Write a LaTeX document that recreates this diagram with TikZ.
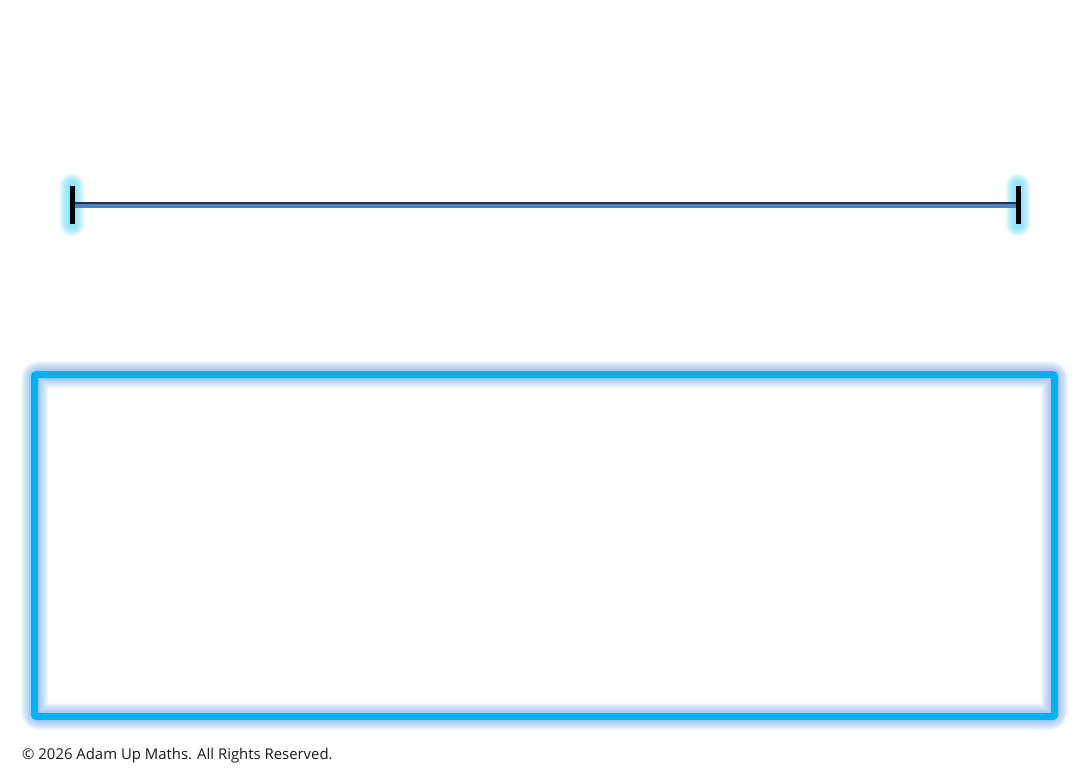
\documentclass[tikz,border=0pt]{standalone}
\usepackage{fontspec}
\setmainfont{Open Sans}
\definecolor{boxblue}{HTML}{00B0F0}
\definecolor{glowblue}{HTML}{7FB0F0}
\definecolor{tickglow}{HTML}{60D8F8}
\definecolor{linetop}{HTML}{4F82C2}
\definecolor{linebot}{HTML}{1F3050}
\begin{document}
\begin{tikzpicture}[x=1pt,y=-1pt,
  glowbox/.style={draw=glowblue,line join=round,line width=#1,opacity=0.18},
  tickstyle/.style={draw=black,line width=5pt},
  tickhalo/.style={draw=tickglow,line width=#1,line cap=round,opacity=0.2}]
\useasboundingbox (0,0) rectangle (1090,770);
\fill[white] (0,0) rectangle (1090,770);
% line endpoints
\coordinate (L) at (72,205);
\coordinate (R) at (1018,205);
\coordinate (Lt) at (72,186);
\coordinate (Lb) at (72,224);
\coordinate (Rt) at (1018,186);
\coordinate (Rb) at (1018,224);
% tick glows
\foreach \w in {24,20,16,12,9}{
  \draw[tickhalo=\w pt] (Lt) -- (Lb);
  \draw[tickhalo=\w pt] (Rt) -- (Rb);
}
% main line
\draw[linebot,line width=6.5pt] (L) -- (R);
\draw[linetop,line width=4pt] ([yshift=-1.2pt]L) -- ([yshift=-1.2pt]R);
% ticks
\draw[tickstyle] (Lt) -- (Lb);
\draw[tickstyle] (Rt) -- (Rb);
% box glow
\coordinate (B1) at (34.5,374.5);
\coordinate (B2) at (1054.5,716.5);
\foreach \w in {26,22,18,14,11}{
  \draw[glowbox=\w pt,rounded corners=4pt] (B1) rectangle (B2);
}
\node[draw=boxblue,line width=7pt,rounded corners=2pt,inner sep=0pt,
  minimum width=1020pt,minimum height=342pt] (box) at (544.5,545.5) {};
\node[anchor=base west,inner sep=0pt,font=\fontsize{14.9pt}{17pt}\selectfont,text=black!90] (copy) at (22,759) {© 2026 Adam Up Maths. All Rights Reserved.};
\end{tikzpicture}
\end{document}
